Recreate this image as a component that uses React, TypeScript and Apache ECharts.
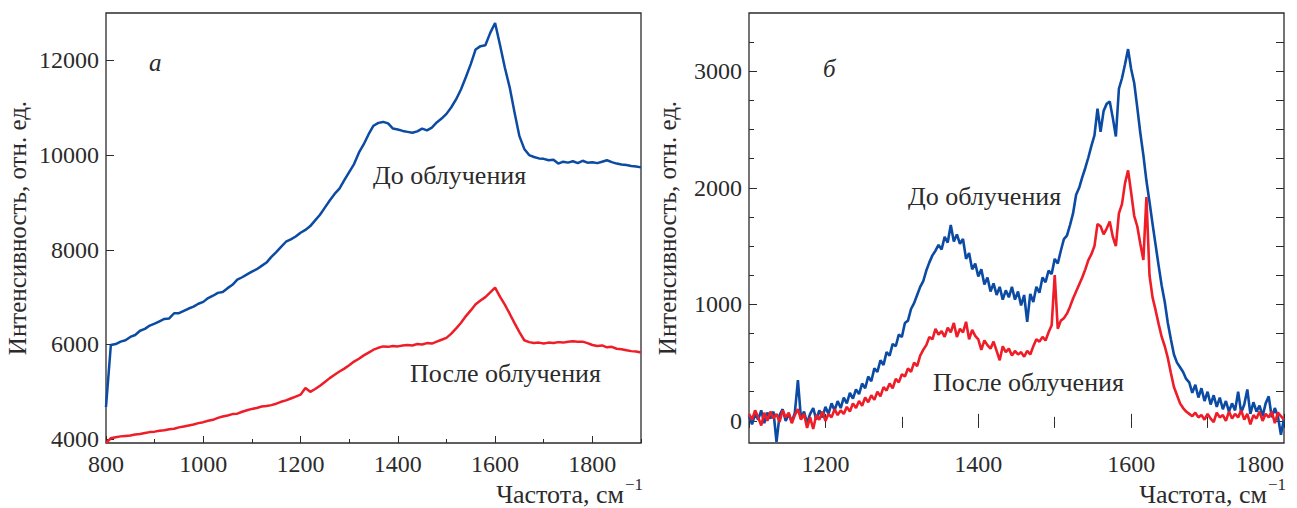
import React, { useEffect, useRef } from "react";
import * as echarts from "echarts";

// Panel "а": spectra sampled every 10 cm^-1 starting at 800 cm^-1
const LEFT_START = 800;
const LEFT_STEP = 10;
const LEFT_BEFORE = [
  4680, 5990, 6010, 6060, 6090, 6160, 6200, 6290, 6330, 6400,
  6440, 6490, 6540, 6550, 6660, 6660, 6710, 6760, 6800, 6860,
  6900, 6980, 7030, 7090, 7110, 7190, 7260, 7370, 7420, 7480,
  7540, 7590, 7660, 7730, 7850, 7950, 8060, 8170, 8220, 8280,
  8360, 8420, 8500, 8620, 8740, 8890, 9040, 9180, 9290, 9470,
  9640, 9810, 10050, 10230, 10440, 10620, 10680, 10700, 10670, 10560,
  10540, 10510, 10490, 10470, 10500, 10560, 10520, 10580, 10690, 10770,
  10870, 11010, 11180, 11390, 11650, 11920, 12230, 12300, 12320, 12580,
  12790, 12330, 11850, 11430, 10900, 10400, 10130, 10000, 9960, 9930,
  9920, 9890, 9900, 9820, 9860, 9840, 9870, 9830, 9880, 9840,
  9850, 9830, 9860, 9890, 9850, 9820, 9800, 9790, 9770, 9760,
  9740,
];
const LEFT_AFTER = [
  3920, 4020, 4040, 4060, 4070, 4080, 4100, 4110, 4130, 4150,
  4160, 4180, 4190, 4210, 4220, 4250, 4270, 4290, 4310, 4340,
  4360, 4390, 4410, 4450, 4480, 4500, 4530, 4540, 4580, 4610,
  4640, 4660, 4690, 4700, 4720, 4750, 4790, 4820, 4860, 4900,
  4940, 5080, 5000, 5060, 5130, 5210, 5290, 5360, 5430, 5490,
  5560, 5640, 5700, 5770, 5830, 5890, 5930, 5960, 5950, 5970,
  5960, 5980, 5990, 5980, 6010, 6000, 6030, 6020, 6060, 6100,
  6140, 6230, 6340, 6460, 6600, 6720, 6850, 6930, 7000, 7100,
  7200, 7010, 6840, 6650, 6450, 6260, 6090, 6050, 6030, 6040,
  6020, 6040, 6030, 6050, 6040, 6060, 6070, 6060, 6060, 6030,
  5990, 5970, 5980, 5940, 5950, 5910, 5900, 5880, 5860, 5850,
  5830,
];

// Panel "б": spectra sampled every 4 cm^-1 starting at 1100 cm^-1
const RIGHT_START = 1100;
const RIGHT_STEP = 4;
const RIGHT_BEFORE = [
  40, -30, 60, 10, 90, -20, 70, 20, 80, -180,
  50, 100, 0, 60, -10, 70, 350, 20, 80, -20,
  60, 110, 10, 90, 30, 120, 60, 150, 90, 170,
  110, 200, 150, 240, 190, 270, 230, 320, 280, 380,
  340, 450, 420, 520, 480, 590, 560, 660, 640, 740,
  720, 840, 860, 960, 1010, 1080, 1150, 1200, 1290, 1360,
  1420, 1460, 1510, 1470, 1580, 1530, 1680, 1540, 1600, 1520,
  1560, 1390, 1440, 1300, 1350, 1240, 1300, 1170, 1230, 1110,
  1180, 1080, 1150, 1040, 1120, 1060, 1150, 1040, 1110, 990,
  1080, 850, 1090, 1020, 1150, 1100, 1230, 1190, 1290, 1260,
  1390, 1350, 1460, 1560, 1590, 1680, 1780, 1940, 2000, 2090,
  2170, 2260, 2360, 2450, 2680, 2480, 2660, 2720, 2740, 2600,
  2440, 2850, 2940, 3060, 3190, 3020, 2900, 2690, 2470, 2280,
  2060, 1880, 1690, 1510, 1330, 1160, 1020, 840, 700, 570,
  500, 460, 420, 360, 330, 240, 310, 200, 280, 170,
  250, 140, 220, 120, 200, 100, 170, 80, 150, 90,
  250, 70, 140, 270, 60, 160, 80, 130, 40, 150,
  210, 30, 110, 40, -120, 20,
];
const RIGHT_AFTER = [
  60, 10, 90, 30, -40, 70, 0, 80, 20, 60,
  -10, 90, 30, 70, -20, 50, 100, 10, 60, -60,
  30, -70, 50, 10, 80, 0, 60, 30, 100, 50,
  90, 60, 120, 80, 150, 110, 170, 130, 200, 160,
  220, 180, 250, 210, 290, 260, 320, 280, 360, 330,
  400, 380, 450, 420, 500, 470, 560, 610, 650, 720,
  700, 790, 740, 770, 720, 800, 760, 840, 720, 790,
  760, 850, 700, 780, 730, 700, 610, 690, 650, 620,
  680, 600, 520, 640, 590, 620, 560, 600, 570, 590,
  550, 600, 570, 640, 700, 680, 720, 690, 760, 820,
  1250, 790, 860, 880, 920, 980, 1050, 1110, 1170, 1230,
  1300, 1380, 1430, 1500, 1690, 1670, 1600, 1650, 1710, 1580,
  1500, 1780, 1860, 2040, 2150, 1960, 1760, 1670, 1520, 1380,
  1920, 1250, 1060, 950, 830, 720, 640, 540, 410, 290,
  220, 150, 110, 80, 60, 40, 70, 30, 50, 10,
  60, 20, -10, 70, 30, 50, 0, 80, 20, 60,
  30, 90, 10, 60, -30, 50, 20, 80, 0, 60,
  30, 80, -20, 70, 40, 10,
];

// Tick positions
const LEFT_X_MAJOR = [800, 1000, 1200, 1400, 1600, 1800];
const LEFT_X_MINOR = [900, 1100, 1300, 1500, 1700, 1900];
const LEFT_Y_MAJOR = [4000, 6000, 8000, 10000, 12000];
const RIGHT_X_MAJOR = [1200, 1400, 1600, 1800];
const RIGHT_X_MINOR = [1100, 1300, 1500, 1700];
const RIGHT_X_ALL = [1100, 1200, 1300, 1400, 1500, 1600, 1700, 1800];
const RIGHT_Y_MAJOR = [0, 1000, 2000, 3000];
const RIGHT_Y_MINOR = [250, 500, 750, 1250, 1500, 1750, 2250, 2500, 2750, 3250];
const RIGHT_Y_ALL = [0, 250, 500, 750, 1000, 1250, 1500, 1750, 2000, 2250, 2500, 2750, 3000, 3250];

const LABEL_BEFORE = "До облучения";
const LABEL_AFTER = "После облучения";
const X_NAME = "Частота, см";
const X_UNIT_POWER = "−1";
const Y_NAME = "Интенсивность, отн. ед.";

const FONT = '"Liberation Serif", "DejaVu Serif", serif';
const INK = "#2b2b2b";
const BLUE = "#0b4ba3";
const RED = "#ee1d27";

// Plot-area layout (px)
const GRID_TOP = 13;
const GRID_W = 535;
const GRID_H = 430;
const LEFT_GRID_X = 106;
const RIGHT_GRID_X = 749;

const toPairs = (start: number, step: number, vals: number[]) =>
  vals.map((v, i) => [start + i * step, v]);

const plain = (v: number) => String(v);

const tickOnly = (extra: any) => ({
  type: "value",
  axisLine: { show: false },
  splitLine: { show: false },
  axisLabel: { show: false },
  ...extra,
});

const labelStyle = {
  fontSize: 24,
  fontFamily: FONT,
  color: INK,
};

const yName = {
  name: Y_NAME,
  nameLocation: "middle",
  nameMoveOverlap: false,
  nameTextStyle: { fontSize: 25, fontFamily: FONT, color: INK },
};

const text = (
  x: number,
  y: number,
  t: string,
  opts: { italic?: boolean; size?: number; align?: string } = {}
) => ({
  type: "text",
  x,
  y,
  style: {
    text: t,
    fontSize: opts.size ?? 26,
    fontFamily: FONT,
    fontStyle: opts.italic ? "italic" : "normal",
    fill: INK,
    align: opts.align ?? "left",
    verticalAlign: "middle",
  },
});

// "Частота, см^-1" placed under the right end of a panel's x axis
const xTitle = (gridX: number) => {
  const end = gridX + GRID_W - 17;
  return [
    text(end, 494, X_NAME, { align: "right" }),
    text(end + 1, 484, X_UNIT_POWER, { size: 17 }),
  ];
};

export default function App() {
  const ref = useRef<HTMLDivElement>(null);

  useEffect(() => {
    if (!ref.current) return;
    const chart = echarts.init(ref.current, undefined, { renderer: "svg" });
    const tickStyle = { color: INK, width: 1 };
    const gridBase = {
      top: GRID_TOP,
      width: GRID_W,
      height: GRID_H,
      show: true,
      borderColor: INK,
      borderWidth: 1.3,
      outerBoundsMode: "none",
      containLabel: false,
    };

    chart.setOption({
      animation: false,
      backgroundColor: "#ffffff",
      grid: [
        { ...gridBase, left: LEFT_GRID_X },
        { ...gridBase, left: RIGHT_GRID_X },
      ],
      xAxis: [
        {
          type: "value",
          gridIndex: 0,
          min: 800,
          max: 1900,
          position: "bottom",
          axisLine: { show: false },
          splitLine: { show: false },
          axisTick: { inside: true, length: 7, customValues: LEFT_X_MAJOR, lineStyle: tickStyle },
          axisLabel: { ...labelStyle, margin: 9, customValues: LEFT_X_MAJOR, formatter: plain },
        },
        tickOnly({
          gridIndex: 0,
          min: 800,
          max: 1900,
          position: "bottom",
          axisTick: { inside: true, length: 4, customValues: LEFT_X_MINOR, lineStyle: tickStyle },
        }),
        {
          type: "value",
          gridIndex: 1,
          min: 1100,
          max: 1800,
          position: "bottom",
          axisLine: { show: false },
          splitLine: { show: false },
          axisTick: { inside: true, length: 7, customValues: RIGHT_X_MAJOR, lineStyle: tickStyle },
          axisLabel: {
            ...labelStyle,
            margin: 9,
            customValues: RIGHT_X_MAJOR,
            formatter: plain,
            alignMaxLabel: "right",
          },
        },
        tickOnly({
          gridIndex: 1,
          min: 1100,
          max: 1800,
          position: "bottom",
          axisTick: { inside: true, length: 4, customValues: RIGHT_X_MINOR, lineStyle: tickStyle },
        }),
        tickOnly({
          gridIndex: 1,
          min: 1100,
          max: 1800,
          position: "top",
          axisTick: { inside: true, length: 7, customValues: RIGHT_X_ALL, lineStyle: tickStyle },
        }),
      ],
      yAxis: [
        {
          type: "value",
          gridIndex: 0,
          min: 3920,
          max: 13000,
          position: "left",
          axisLine: { show: false },
          splitLine: { show: false },
          axisTick: { inside: true, length: 8, customValues: LEFT_Y_MAJOR, lineStyle: tickStyle },
          axisLabel: { ...labelStyle, margin: 7, customValues: LEFT_Y_MAJOR, formatter: plain },
          ...yName,
          nameGap: 76,
        },
        {
          type: "value",
          gridIndex: 1,
          min: -190,
          max: 3500,
          position: "left",
          axisLine: { show: false },
          splitLine: { show: false },
          axisTick: { inside: true, length: 8, customValues: RIGHT_Y_MAJOR, lineStyle: tickStyle },
          axisLabel: { ...labelStyle, margin: 7, customValues: RIGHT_Y_MAJOR, formatter: plain },
          ...yName,
          nameGap: 69,
        },
        tickOnly({
          gridIndex: 1,
          min: -190,
          max: 3500,
          position: "left",
          axisTick: { inside: true, length: 5, customValues: RIGHT_Y_MINOR, lineStyle: tickStyle },
        }),
        tickOnly({
          gridIndex: 1,
          min: -190,
          max: 3500,
          position: "right",
          axisTick: { inside: true, length: 8, customValues: RIGHT_Y_ALL, lineStyle: tickStyle },
        }),
      ],
      series: [
        {
          type: "line",
          xAxisIndex: 0,
          yAxisIndex: 0,
          data: toPairs(LEFT_START, LEFT_STEP, LEFT_BEFORE),
          showSymbol: false,
          lineStyle: { color: BLUE, width: 2.5 },
          silent: true,
        },
        {
          type: "line",
          xAxisIndex: 0,
          yAxisIndex: 0,
          data: toPairs(LEFT_START, LEFT_STEP, LEFT_AFTER),
          showSymbol: false,
          lineStyle: { color: RED, width: 2.5 },
          silent: true,
        },
        {
          type: "line",
          xAxisIndex: 2,
          yAxisIndex: 1,
          data: toPairs(RIGHT_START, RIGHT_STEP, RIGHT_BEFORE),
          showSymbol: false,
          lineStyle: { color: BLUE, width: 2.6 },
          silent: true,
        },
        {
          type: "line",
          xAxisIndex: 2,
          yAxisIndex: 1,
          data: toPairs(RIGHT_START, RIGHT_STEP, RIGHT_AFTER),
          showSymbol: false,
          lineStyle: { color: RED, width: 2.6 },
          silent: true,
        },
      ],
      graphic: [
        text(149, 62, "а", { italic: true, size: 25 }),
        text(823, 68, "б", { italic: true, size: 25 }),
        text(373, 175, LABEL_BEFORE),
        text(410, 373, LABEL_AFTER),
        text(908, 196, LABEL_BEFORE),
        text(933, 382, LABEL_AFTER),
        ...xTitle(LEFT_GRID_X),
        ...xTitle(RIGHT_GRID_X),
      ],
    });

    return () => chart.dispose();
  }, []);

  return (
    <div
      ref={ref}
      style={{ position: "fixed", left: 0, top: 0, width: 1297, height: 508 }}
    />
  );
}
